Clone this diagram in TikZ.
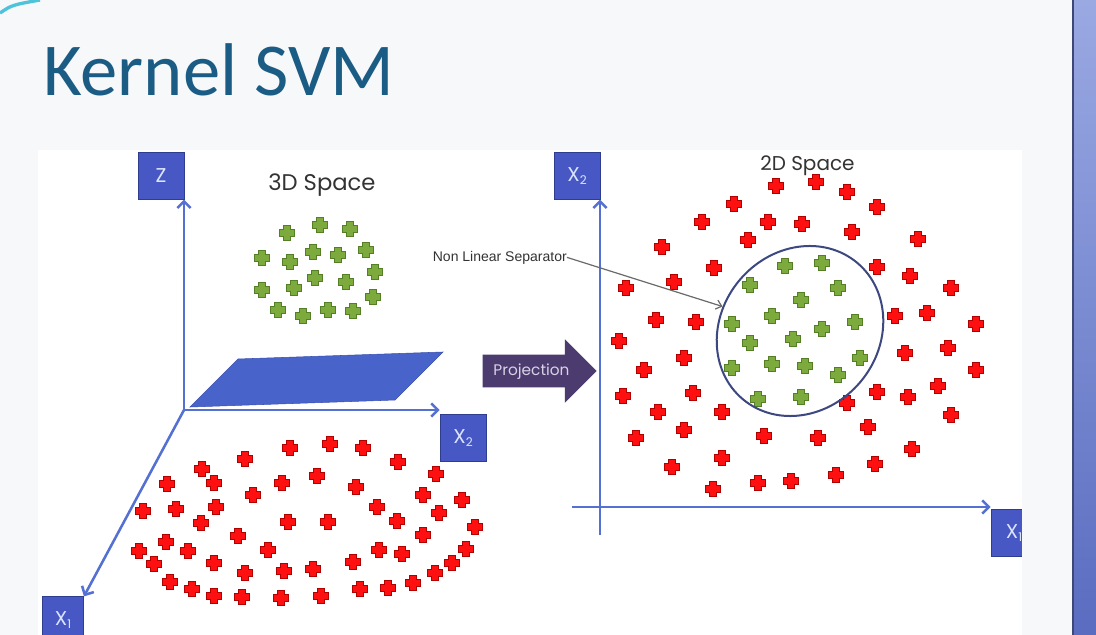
\documentclass[tikz,border=0pt]{standalone}
\usepackage{fontspec}
\setmainfont{Poppins}
\newfontfamily\titlefont{Carlito}
\newfontfamily\notefont{Liberation Sans}
\usepackage{tikz}
\usetikzlibrary{positioning, arrows.meta, shapes.geometric, shapes.arrows}
\usepackage{xcolor}
\definecolor{slideBg}{HTML}{F7F8FA}
\definecolor{titleBlue}{HTML}{1B5C85}
\definecolor{axisBlue}{HTML}{5470D2}
\definecolor{boxBlue}{HTML}{4758C4}
\definecolor{boxEdge}{HTML}{2F3D8E}
\definecolor{boxText}{HTML}{DCE4FF}
\definecolor{planeBlue}{HTML}{4863CA}
\definecolor{planeEdge}{HTML}{3A50B0}
\definecolor{redFill}{HTML}{FF1010}
\definecolor{redEdge}{HTML}{B00000}
\definecolor{greenFill}{HTML}{7DAA3C}
\definecolor{greenEdge}{HTML}{557F25}
\definecolor{ringNavy}{HTML}{3D4780}
\definecolor{projPurple}{HTML}{4C3B6E}
\definecolor{projText}{HTML}{D9D2E6}
\definecolor{labelGray}{HTML}{333333}
\definecolor{noteGray}{HTML}{6A6A6A}
\definecolor{stripeTop}{HTML}{9AA9E2}
\definecolor{stripeBot}{HTML}{5A6CC0}
\definecolor{stripeEdge}{HTML}{3E4876}
\definecolor{cornerTeal}{HTML}{4FC3D9}
\newcommand{\axsub}[1]{\raisebox{-0.35ex}{\fontsize{9}{9}\selectfont #1}}
\tikzset{
  axisbox/.style={draw=boxEdge, fill=boxBlue, text=boxText, minimum width=34.5pt, minimum height=35pt, inner sep=0pt, font=\fontsize{15}{15}\selectfont},
  axisline/.style={axisBlue, line width=1.9pt, -{Straight Barb[length=5pt, width=10pt]}},
  crossmark/.pic={\filldraw[pic actions] (-3.2,-7.8) -- (3.2,-7.8) -- (3.2,-3.2) -- (7.8,-3.2) -- (7.8,3.2) -- (3.2,3.2) -- (3.2,7.8) -- (-3.2,7.8) -- (-3.2,3.2) -- (-7.8,3.2) -- (-7.8,-3.2) -- (-3.2,-3.2) -- cycle;},
  redpt/.style={fill=redFill, draw=redEdge, line width=0.5pt},
  greenpt/.style={fill=greenFill, draw=greenEdge, line width=0.5pt},
}

\begin{document}
\begin{tikzpicture}[x=0.75pt, y=-0.75pt]
\useasboundingbox (0,0) rectangle (1096,635);
\fill[slideBg] (0,0) rectangle (1096,635);
\fill[white] (38,150) rectangle (1022,640);
\draw[cornerTeal, line width=2.5pt] (0,13) .. controls (12,5) .. (40,0);

\node[anchor=base west, inner sep=0pt, text=titleBlue, font=\titlefont\fontsize{56}{56}\selectfont] (title) at (43,95) {Kernel SVM};

\node[anchor=base west, inner sep=0pt, text=labelGray, font=\fontsize{17}{17}\selectfont] (space3) at (268,190) {3D Space};
\node[axisbox] (zax) at (161,176) {Z};
\node[axisbox] (x2ax) at (463,438) {X\axsub{2}};
\node[axisbox, minimum width=31pt] (x1ax) at (63,620) {X\axsub{1}};
\coordinate (o3) at (184,410);
\filldraw[fill=planeBlue, draw=planeEdge] (190,407) -- (238,359) -- (443,352) -- (395,400) -- cycle;
\draw[axisline] (o3) -- (o3 |- zax.south);
\draw[axisline] (o3) -- (o3 -| x2ax.west);
\draw[axisline] (o3) -- (x1ax.north east);
\foreach \x/\y in {287/233,320/225,350/229,262/258,290/262,313/252,338/255,366/250,375/272,315/278,346/282,262/290,294/288,373/297,278/310,303/316,328/310,353/311}
  \pic[greenpt] at (\x,\y) {crossmark};
\foreach \x/\y in {290/448,330/444,363/448,245/459,398/462,202/469,436/474,167/484,214/483,282/483,317/476,356/487,253/495,423/495,462/500,143/511,176/509,216/507,377/507,201/523,288/522,328/522,397/521,439/513,475/527,238/536,423/535,166/542,139/551,188/551,268/550,379/550,402/554,466/549,154/564,214/563,353/562,245/573,284/571,313/569,452/563,435/573,170/582,192/589,214/596,242/597,281/598,321/596,360/589,388/588,413/583}
  \pic[redpt] at (\x,\y) {crossmark};

\node[single arrow, fill=projPurple, text=projText, single arrow head extend=11.6pt, minimum height=85.5pt, text height=8pt, text depth=1.5pt, inner ysep=7.25pt, inner xsep=3pt, anchor=tip, font=\fontsize{11.5}{11.5}\selectfont] (proj) at (597,371) {Projection};

\node[anchor=base west, inner sep=0pt, text=labelGray, font=\fontsize{15}{15}\selectfont] (space2) at (760,171) {2D Space};
\node[axisbox] (x2r) at (577,176) {X\axsub{2}};
\node[axisbox] (x1r) at (1014,533) {X\axsub{1}};
\coordinate (vbot) at (600,535);
\coordinate (hleft) at (572,507);
\draw[axisline] (vbot) -- (vbot |- x2r.south);
\draw[axisline] (hleft) -- (hleft -| x1r.west);
\foreach \x/\y in {776/186,816/182,847/192,734/204,877/207,702/222,768/222,802/224,852/232,662/247,748/240,918/239,714/268,877/267,910/276,626/288,674/282,951/288,656/320,696/322,895/316,927/313,976/324,619/341,684/358,905/353,948/348,644/370,976/370,623/396,693/393,877/392,908/397,938/386,847/403,658/412,722/412,951/415,636/438,684/430,764/436,818/438,868/427,912/449,672/467,722/458,875/464,713/489,758/483,791/481,836/475}
  \pic[redpt] at (\x,\y) {crossmark};
\foreach \x/\y in {785/266,822/263,750/285,838/288,801/300,732/324,772/316,855/322,822/329,750/343,793/339,732/368,772/364,805/366,860/358,838/375,758/399,801/397}
  \pic[greenpt] at (\x,\y) {crossmark};
\node[draw=ringNavy, line width=1.5pt, ellipse, minimum width=133.5pt, minimum height=118.5pt, inner sep=0pt, rotate=50] (sep) at (800,331) {};
\node[anchor=base east, inner sep=0pt, text=labelGray, font=\notefont\fontsize{10.5}{10.5}\selectfont] (sepnote) at (567,261) {Non Linear Separator};
\draw[noteGray, line width=0.9pt, -{Straight Barb[length=4pt, width=7pt]}] (sepnote.east) -- (sep);

\fill[slideBg] (1022,150) rectangle (1073,635);
\shade[top color=stripeTop, bottom color=stripeBot] (1073,0) rectangle (1096,635);
\draw[stripeEdge, line width=1.5pt] (1073,0) -- (1073,635);
\end{tikzpicture}
\end{document}
